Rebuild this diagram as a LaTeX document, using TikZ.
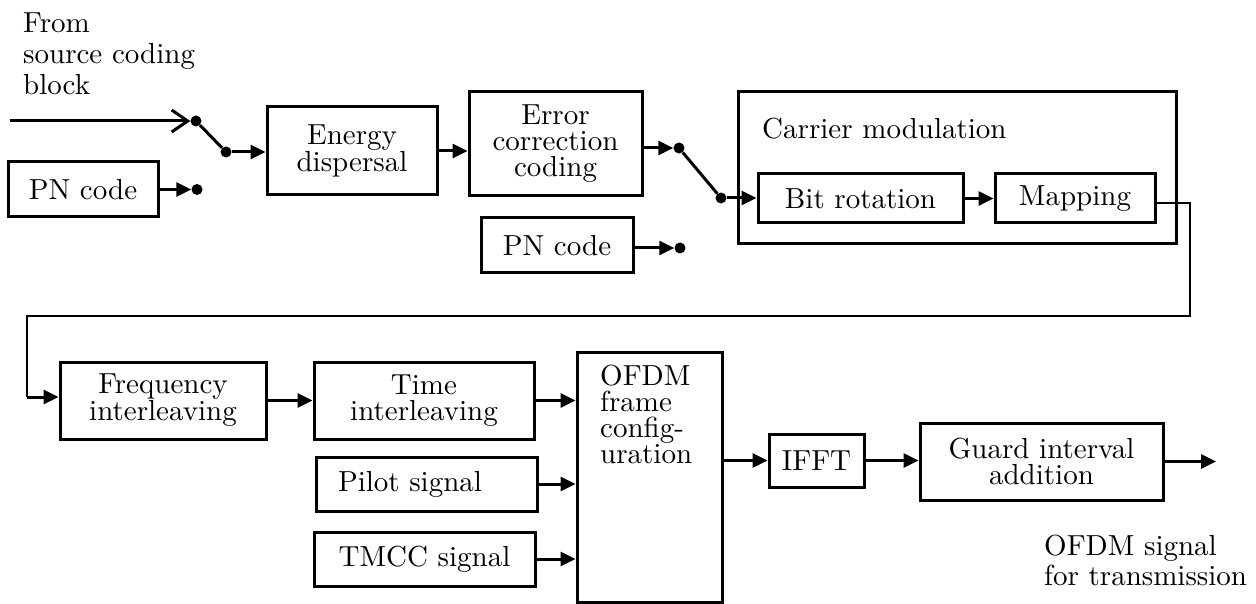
\documentclass[tikz,border=0pt]{standalone}
\usepackage{fontspec}
\setmainfont{lmroman10-regular.otf}
\usetikzlibrary{arrows.meta}
\begin{document}
\begin{tikzpicture}[x=1pt,y=-1pt,
  every node/.style={font=\fontsize{29}{26}\selectfont},
  blk/.style={draw, line width=3pt, inner sep=0pt, align=center},
  dot/.style={circle, fill, inner sep=0pt, minimum size=11pt},
  arr/.style={line width=3pt, -{Triangle[length=15pt,width=14pt]}},
  wire/.style={line width=3pt},
  route/.style={line width=2pt},
  txt/.style={inner sep=0pt, align=left, anchor=north west}]
\useasboundingbox (0,0) rectangle (1256,604);

% ---- upper chain ----
\node[txt, font=\fontsize{29}{31}\selectfont] (src) at (23,13) {From\\source coding\\block};
\coordinate (in) at (10,121);
\node[dot] (sw1a) at (196,121) {};
\node[dot] (sw1b) at (226,152) {};
\node[blk, minimum width=150pt, minimum height=55pt] (pn1) at (83,189.5) {PN code};
\node[dot] (pn1dot) at (197,189.5) {};
\node[blk, minimum width=170pt, minimum height=88pt] (energy) at (352,151) {Energy\\dispersal};
\node[blk, minimum width=173pt, minimum height=104pt] (error) at (555.5,144) {Error\\correction\\coding};
\node[dot] (sw2a) at (679,148) {};
\node[dot] (sw2b) at (721,198) {};
\node[blk, minimum width=152pt, minimum height=55pt] (pn2) at (557,245.5) {PN code};
\node[dot] (pn2dot) at (680,248) {};

% carrier modulation group
\node[blk, minimum width=438pt, minimum height=152pt] (carrier) at (957,168) {};
\node[inner sep=0pt, anchor=base west] (cmtitle) at (762,139) {Carrier modulation};
\node[blk, minimum width=205pt, minimum height=49pt] (bit) at (860.5,198.5) {Bit rotation};
\node[blk, minimum width=160pt, minimum height=49pt] (map) at (1075,198.5) {Mapping};

\draw[line width=3pt, line join=miter, -{Straight Barb[length=16pt,width=22pt]}] (in) -- (sw1a);
\draw[wire] (sw1a) -- (sw1b);
\draw[arr] (sw1b) -- (sw1b -| energy.west);
\draw[arr] (pn1.east |- pn1dot) -- (pn1dot);
\draw[arr] (energy) -- (energy -| error.west);
\draw[arr] (error.east |- sw2a) -- (sw2a);
\draw[wire] (sw2a) -- (sw2b);
\draw[arr] (sw2b) -- (sw2b -| bit.west);
\draw[arr] (pn2.east |- pn2dot) -- (pn2dot);
\draw[arr] (bit) -- (map);

% ---- lower chain ----
\node[blk, minimum width=206pt, minimum height=77pt] (freq) at (163,400.5) {Frequency\\interleaving};
\node[blk, minimum width=220pt, minimum height=77pt] (time) at (424,400.5) {Time\\interleaving};
\node[blk, minimum width=221pt, minimum height=54pt, text width=177pt, align=left, inner xsep=22pt] (pilot) at (426.5,484) {Pilot signal};
\node[blk, minimum width=221pt, minimum height=54pt] (tmcc) at (424.5,559) {TMCC signal};
\node[blk, minimum width=145pt, minimum height=250pt] (ofdm) at (649.5,477) {};
\node[txt] (ofdmtxt) at (600,365) {OFDM\\frame\\config-\\uration};
\node[blk, minimum width=95pt, minimum height=53pt] (ifft) at (816.5,460.5) {IFFT};
\node[blk, minimum width=243pt, minimum height=77pt] (guard) at (1041.5,461.5) {Guard interval\\addition};
\coordinate (out) at (1216,461.5);
\node[txt, font=\fontsize{29}{30}\selectfont] (outtxt) at (1044,535) {OFDM signal\\for transmission};

% route from the mapper down to the interleavers
\coordinate (r1) at (1190,316);
\coordinate (r2) at (27,397);
\draw[route] ([yshift=-4.5pt]map.east) -| (r1) -| (r2);
\draw[arr] (r2) -- (r2 -| freq.west);

\draw[arr] (freq) -- (time);
\draw[arr] (time) -- (time -| ofdm.west);
\draw[arr] (pilot) -- (pilot -| ofdm.west);
\draw[arr] (tmcc) -- (tmcc -| ofdm.west);
\draw[arr] (ifft -| ofdm.east) -- (ifft);
\draw[arr] (ifft) -- (ifft -| guard.west);
\draw[arr] (guard.east |- out) -- (out);
\end{tikzpicture}
\end{document}
